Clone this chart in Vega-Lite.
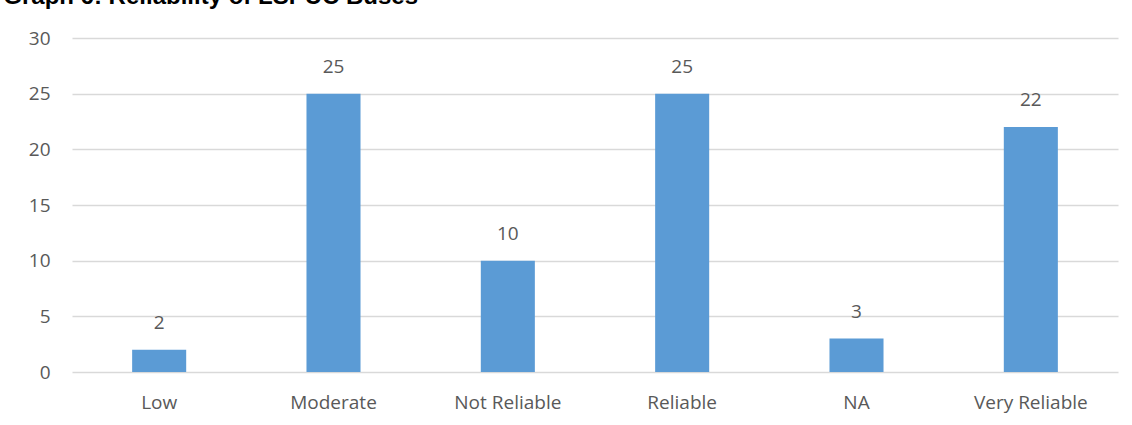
{
  "$schema": "https://vega.github.io/schema/vega-lite/v6.json",
  "width": 1046,
  "height": 334,
  "autosize": {"type": "none"},
  "padding": {"left": 72, "top": 38, "right": 14, "bottom": 53},
  "background": "white",
  "title": {
    "text": "Graph 6: Reliability of LSPUC Buses",
    "anchor": "start",
    "frame": "bounds",
    "font": "Liberation Sans",
    "fontSize": 24,
    "fontWeight": "bold",
    "color": "#000000",
    "baseline": "alphabetic",
    "dx": -25,
    "offset": 0,
    "dy": -1
  },
  "config": {
    "view": {"stroke": null},
    "axis": {
      "labelFont": "Open Sans",
      "labelFontSize": 19,
      "labelColor": "#595959",
      "titleFont": "Open Sans"
    }
  },
  "data": {
    "values": [
      {"category": "Low", "count": 2},
      {"category": "Moderate", "count": 25},
      {"category": "Not Reliable", "count": 10},
      {"category": "Reliable", "count": 25},
      {"category": "NA", "count": 3},
      {"category": "Very Reliable", "count": 22}
    ]
  },
  "encoding": {
    "x": {
      "field": "category",
      "type": "nominal",
      "sort": null,
      "scale": {"paddingInner": 0.69, "paddingOuter": 0.345},
      "axis": {
        "title": null,
        "labelAngle": 0,
        "ticks": false,
        "domain": false,
        "labelPadding": 21
      }
    },
    "y": {
      "field": "count",
      "type": "quantitative",
      "scale": {"domain": [0, 30], "nice": false},
      "axis": {
        "title": null,
        "values": [0, 5, 10, 15, 20, 25, 30],
        "ticks": false,
        "domain": false,
        "gridColor": "#D9D9D9",
        "gridWidth": 1.3,
        "labelPadding": 22
      }
    }
  },
  "layer": [
    {"mark": {"type": "bar", "color": "#5B9BD5"}},
    {
      "mark": {
        "type": "text",
        "baseline": "bottom",
        "dy": -17,
        "font": "Open Sans",
        "fontSize": 19,
        "color": "#595959"
      },
      "encoding": {"text": {"field": "count", "type": "quantitative"}}
    }
  ]
}
